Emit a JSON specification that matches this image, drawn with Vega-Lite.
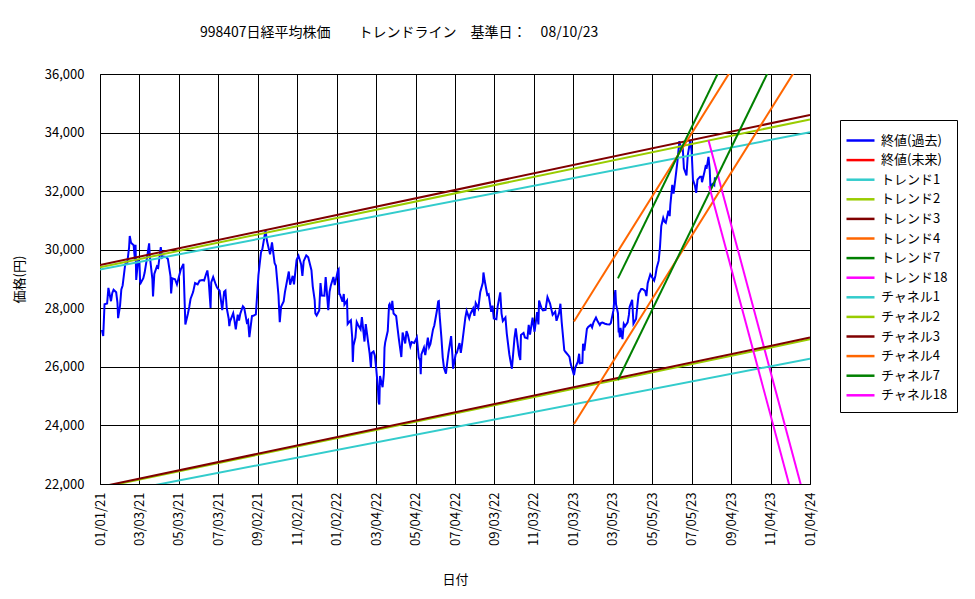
{
  "$schema": "https://vega.github.io/schema/vega-lite/v6.json",
  "autosize": {"type": "none"},
  "padding": {"left": 100, "top": 74, "right": 165, "bottom": 115},
  "width": 710,
  "height": 410,
  "background": "white",
  "config": {
    "font": "Noto Sans CJK JP",
    "view": {"stroke": "#808080", "strokeWidth": 1},
    "axis": {"labelFont": "Noto Sans CJK JP", "titleFont": "Noto Sans CJK JP", "labelColor": "black", "titleColor": "black", "titleFontWeight": "normal", "labelFontSize": 12, "titleFontSize": 13, "gridColor": "black", "gridOpacity": 1, "gridWidth": 1, "domainColor": "black", "domainWidth": 1}
  },
  "title": {
    "text": "998407日経平均株価　　トレンドライン　基準日：　08/10/23",
    "anchor": "start",
    "frame": "group",
    "dx": 100,
    "offset": 28,
    "fontSize": 14,
    "fontWeight": "normal",
    "font": "Noto Sans CJK JP",
    "color": "black"
  },
  "datasets": {
    "close": [
      {"d":"2021-01-04","v":27258},{"d":"2021-01-06","v":27056},{"d":"2021-01-08","v":28139},{"d":"2021-01-12","v":28164},{"d":"2021-01-14","v":28698},{"d":"2021-01-18","v":28242},{"d":"2021-01-20","v":28523},{"d":"2021-01-22","v":28631},{"d":"2021-01-26","v":28546},{"d":"2021-01-28","v":28197},{"d":"2021-01-29","v":27663},
      {"d":"2021-02-01","v":28091},{"d":"2021-02-03","v":28646},{"d":"2021-02-05","v":28779},{"d":"2021-02-09","v":29505},{"d":"2021-02-12","v":29520},{"d":"2021-02-15","v":30084},{"d":"2021-02-16","v":30467},{"d":"2021-02-18","v":30236},{"d":"2021-02-22","v":30156},{"d":"2021-02-24","v":29671},{"d":"2021-02-25","v":30168},{"d":"2021-02-26","v":28966},
      {"d":"2021-03-01","v":29663},{"d":"2021-03-03","v":29559},{"d":"2021-03-04","v":28930},{"d":"2021-03-05","v":28864},{"d":"2021-03-09","v":29028},{"d":"2021-03-11","v":29211},{"d":"2021-03-15","v":29766},{"d":"2021-03-18","v":30216},{"d":"2021-03-19","v":29792},{"d":"2021-03-23","v":28995},{"d":"2021-03-24","v":28405},{"d":"2021-03-26","v":29176},{"d":"2021-03-30","v":29432},
      {"d":"2021-04-01","v":29388},{"d":"2021-04-05","v":30089},{"d":"2021-04-07","v":29730},{"d":"2021-04-09","v":29768},{"d":"2021-04-13","v":29751},{"d":"2021-04-16","v":29683},{"d":"2021-04-20","v":29100},{"d":"2021-04-21","v":28508},{"d":"2021-04-23","v":29020},{"d":"2021-04-27","v":28991},{"d":"2021-04-30","v":28812},
      {"d":"2021-05-06","v":29331},{"d":"2021-05-10","v":29518},{"d":"2021-05-12","v":28147},{"d":"2021-05-13","v":27448},{"d":"2021-05-17","v":27824},{"d":"2021-05-19","v":28044},{"d":"2021-05-21","v":28317},{"d":"2021-05-25","v":28553},{"d":"2021-05-28","v":28860},
      {"d":"2021-06-01","v":28814},{"d":"2021-06-04","v":28941},{"d":"2021-06-08","v":28963},{"d":"2021-06-11","v":28948},{"d":"2021-06-14","v":29161},{"d":"2021-06-16","v":29291},{"d":"2021-06-18","v":28964},{"d":"2021-06-21","v":28010},{"d":"2021-06-22","v":28884},{"d":"2021-06-25","v":29066},{"d":"2021-06-29","v":28812},
      {"d":"2021-07-01","v":28707},{"d":"2021-07-05","v":28598},{"d":"2021-07-08","v":28118},{"d":"2021-07-09","v":27940},{"d":"2021-07-12","v":28569},{"d":"2021-07-14","v":28608},{"d":"2021-07-16","v":28003},{"d":"2021-07-19","v":27652},{"d":"2021-07-20","v":27388},{"d":"2021-07-21","v":27548},{"d":"2021-07-26","v":27833},{"d":"2021-07-28","v":27581},{"d":"2021-07-30","v":27283},
      {"d":"2021-08-02","v":27781},{"d":"2021-08-04","v":27584},{"d":"2021-08-06","v":27820},{"d":"2021-08-10","v":28070},{"d":"2021-08-12","v":28015},{"d":"2021-08-16","v":27523},{"d":"2021-08-18","v":27585},{"d":"2021-08-20","v":27013},{"d":"2021-08-24","v":27732},{"d":"2021-08-26","v":27742},{"d":"2021-08-30","v":27789},
      {"d":"2021-09-01","v":28451},{"d":"2021-09-03","v":29128},{"d":"2021-09-07","v":29916},{"d":"2021-09-09","v":30008},{"d":"2021-09-14","v":30670},{"d":"2021-09-16","v":30323},{"d":"2021-09-21","v":29840},{"d":"2021-09-24","v":30248},{"d":"2021-09-28","v":29544},{"d":"2021-09-30","v":29452},
      {"d":"2021-10-04","v":28444},{"d":"2021-10-06","v":27528},{"d":"2021-10-08","v":28048},{"d":"2021-10-12","v":28230},{"d":"2021-10-14","v":28550},{"d":"2021-10-18","v":29025},{"d":"2021-10-20","v":29255},{"d":"2021-10-22","v":28804},{"d":"2021-10-26","v":29106},{"d":"2021-10-28","v":28820},
      {"d":"2021-11-01","v":29647},{"d":"2021-11-04","v":29794},{"d":"2021-11-08","v":29507},{"d":"2021-11-10","v":29106},{"d":"2021-11-12","v":29610},{"d":"2021-11-16","v":29808},{"d":"2021-11-19","v":29745},{"d":"2021-11-24","v":29302},{"d":"2021-11-26","v":28751},{"d":"2021-11-29","v":28283},{"d":"2021-11-30","v":27821},
      {"d":"2021-12-02","v":27753},{"d":"2021-12-06","v":27927},{"d":"2021-12-08","v":28860},{"d":"2021-12-10","v":28437},{"d":"2021-12-14","v":28432},{"d":"2021-12-16","v":29066},{"d":"2021-12-20","v":27937},{"d":"2021-12-22","v":28562},{"d":"2021-12-24","v":28782},{"d":"2021-12-28","v":29069},{"d":"2021-12-30","v":28791},
      {"d":"2022-01-04","v":29301},{"d":"2022-01-05","v":29332},{"d":"2022-01-06","v":28487},{"d":"2022-01-07","v":28478},{"d":"2022-01-11","v":28222},{"d":"2022-01-13","v":28489},{"d":"2022-01-14","v":28124},{"d":"2022-01-18","v":28257},{"d":"2022-01-19","v":27467},{"d":"2022-01-21","v":27522},{"d":"2022-01-24","v":27588},{"d":"2022-01-26","v":27011},{"d":"2022-01-27","v":26170},{"d":"2022-01-28","v":26717},{"d":"2022-01-31","v":27002},
      {"d":"2022-02-02","v":27533},{"d":"2022-02-04","v":27440},{"d":"2022-02-08","v":27284},{"d":"2022-02-10","v":27696},{"d":"2022-02-14","v":26865},{"d":"2022-02-16","v":27460},{"d":"2022-02-18","v":27122},{"d":"2022-02-22","v":26449},{"d":"2022-02-24","v":25970},{"d":"2022-02-25","v":26476},{"d":"2022-02-28","v":26527},
      {"d":"2022-03-02","v":26393},{"d":"2022-03-04","v":25985},{"d":"2022-03-07","v":25221},{"d":"2022-03-08","v":24790},{"d":"2022-03-09","v":24717},{"d":"2022-03-10","v":25690},{"d":"2022-03-14","v":25307},{"d":"2022-03-16","v":25762},{"d":"2022-03-17","v":26652},{"d":"2022-03-18","v":26827},{"d":"2022-03-22","v":27224},{"d":"2022-03-24","v":28110},{"d":"2022-03-25","v":28149},{"d":"2022-03-28","v":27943},{"d":"2022-03-29","v":28252},{"d":"2022-03-31","v":27821},
      {"d":"2022-04-04","v":27736},{"d":"2022-04-06","v":27350},{"d":"2022-04-08","v":26985},{"d":"2022-04-12","v":26335},{"d":"2022-04-14","v":27172},{"d":"2022-04-18","v":26800},{"d":"2022-04-20","v":27217},{"d":"2022-04-22","v":27105},{"d":"2022-04-26","v":26700},{"d":"2022-04-28","v":26847},
      {"d":"2022-05-02","v":26818},{"d":"2022-05-06","v":27003},{"d":"2022-05-09","v":26319},{"d":"2022-05-11","v":26213},{"d":"2022-05-12","v":25748},{"d":"2022-05-13","v":26427},{"d":"2022-05-17","v":26659},{"d":"2022-05-19","v":26402},{"d":"2022-05-23","v":27001},{"d":"2022-05-25","v":26677},{"d":"2022-05-27","v":26781},{"d":"2022-05-31","v":27279},
      {"d":"2022-06-02","v":27413},{"d":"2022-06-06","v":27915},{"d":"2022-06-08","v":28234},{"d":"2022-06-09","v":28246},{"d":"2022-06-10","v":27824},{"d":"2022-06-13","v":26987},{"d":"2022-06-15","v":26326},{"d":"2022-06-17","v":25963},{"d":"2022-06-20","v":25771},{"d":"2022-06-22","v":26149},{"d":"2022-06-24","v":26491},{"d":"2022-06-28","v":27049},{"d":"2022-06-30","v":26393},
      {"d":"2022-07-01","v":25935},{"d":"2022-07-05","v":26423},{"d":"2022-07-07","v":26490},{"d":"2022-07-11","v":26812},{"d":"2022-07-13","v":26478},{"d":"2022-07-15","v":26788},{"d":"2022-07-20","v":27680},{"d":"2022-07-22","v":27914},{"d":"2022-07-26","v":27655},{"d":"2022-07-28","v":27815},
      {"d":"2022-08-01","v":27993},{"d":"2022-08-03","v":27741},{"d":"2022-08-05","v":28176},{"d":"2022-08-09","v":27999},{"d":"2022-08-12","v":28546},{"d":"2022-08-16","v":28868},{"d":"2022-08-17","v":29222},{"d":"2022-08-19","v":28930},{"d":"2022-08-23","v":28452},{"d":"2022-08-25","v":28479},{"d":"2022-08-29","v":27878},{"d":"2022-08-31","v":28091},
      {"d":"2022-09-02","v":27650},{"d":"2022-09-06","v":27626},{"d":"2022-09-08","v":28065},{"d":"2022-09-12","v":28542},{"d":"2022-09-14","v":27818},{"d":"2022-09-16","v":27567},{"d":"2022-09-20","v":27688},{"d":"2022-09-22","v":27153},{"d":"2022-09-26","v":26431},{"d":"2022-09-28","v":26173},{"d":"2022-09-30","v":25937},
      {"d":"2022-10-04","v":26992},{"d":"2022-10-06","v":27311},{"d":"2022-10-11","v":26401},{"d":"2022-10-13","v":26237},{"d":"2022-10-14","v":27090},{"d":"2022-10-18","v":27156},{"d":"2022-10-20","v":27006},{"d":"2022-10-24","v":26974},{"d":"2022-10-26","v":27432},{"d":"2022-10-28","v":27105},
      {"d":"2022-11-01","v":27679},{"d":"2022-11-04","v":27199},{"d":"2022-11-08","v":27872},{"d":"2022-11-10","v":27446},{"d":"2022-11-11","v":28263},{"d":"2022-11-15","v":27990},{"d":"2022-11-17","v":27930},{"d":"2022-11-21","v":27944},{"d":"2022-11-24","v":28383},{"d":"2022-11-28","v":28162},{"d":"2022-11-30","v":27968},
      {"d":"2022-12-02","v":27777},{"d":"2022-12-06","v":27885},{"d":"2022-12-08","v":27574},{"d":"2022-12-12","v":27842},{"d":"2022-12-14","v":28156},{"d":"2022-12-16","v":27527},{"d":"2022-12-20","v":26568},{"d":"2022-12-22","v":26507},{"d":"2022-12-26","v":26405},{"d":"2022-12-28","v":26340},{"d":"2022-12-30","v":26094},
      {"d":"2023-01-04","v":25716},{"d":"2023-01-06","v":25973},{"d":"2023-01-10","v":26175},{"d":"2023-01-12","v":26449},{"d":"2023-01-13","v":26119},{"d":"2023-01-17","v":26138},{"d":"2023-01-18","v":26791},{"d":"2023-01-20","v":26553},{"d":"2023-01-24","v":27299},{"d":"2023-01-26","v":27362},{"d":"2023-01-30","v":27433},
      {"d":"2023-02-01","v":27346},{"d":"2023-02-03","v":27509},{"d":"2023-02-07","v":27685},{"d":"2023-02-09","v":27584},{"d":"2023-02-13","v":27427},{"d":"2023-02-15","v":27501},{"d":"2023-02-17","v":27513},{"d":"2023-02-21","v":27473},{"d":"2023-02-24","v":27453},{"d":"2023-02-28","v":27445},
      {"d":"2023-03-02","v":27498},{"d":"2023-03-06","v":27927},{"d":"2023-03-08","v":28444},{"d":"2023-03-09","v":28623},{"d":"2023-03-10","v":28143},{"d":"2023-03-13","v":27832},{"d":"2023-03-14","v":27222},{"d":"2023-03-15","v":27229},{"d":"2023-03-16","v":27010},{"d":"2023-03-17","v":27333},{"d":"2023-03-20","v":26945},{"d":"2023-03-22","v":27466},{"d":"2023-03-24","v":27385},{"d":"2023-03-28","v":27518},{"d":"2023-03-30","v":27782},{"d":"2023-03-31","v":28041},
      {"d":"2023-04-04","v":28287},{"d":"2023-04-06","v":27472},{"d":"2023-04-10","v":27633},{"d":"2023-04-12","v":28082},{"d":"2023-04-14","v":28493},{"d":"2023-04-18","v":28658},{"d":"2023-04-20","v":28657},{"d":"2023-04-24","v":28593},{"d":"2023-04-26","v":28416},{"d":"2023-04-28","v":28856},
      {"d":"2023-05-02","v":29157},{"d":"2023-05-08","v":28949},{"d":"2023-05-10","v":29122},{"d":"2023-05-12","v":29388},{"d":"2023-05-15","v":29626},{"d":"2023-05-17","v":30093},{"d":"2023-05-19","v":30808},{"d":"2023-05-22","v":31086},{"d":"2023-05-24","v":30957},{"d":"2023-05-26","v":30916},{"d":"2023-05-30","v":31328},
      {"d":"2023-06-01","v":31148},{"d":"2023-06-02","v":31524},{"d":"2023-06-05","v":32217},{"d":"2023-06-07","v":31913},{"d":"2023-06-09","v":32265},{"d":"2023-06-13","v":33018},{"d":"2023-06-15","v":33485},{"d":"2023-06-16","v":33706},{"d":"2023-06-19","v":33370},{"d":"2023-06-21","v":33575},{"d":"2023-06-23","v":32781},{"d":"2023-06-27","v":32538},{"d":"2023-06-29","v":33234},
      {"d":"2023-07-03","v":33753},{"d":"2023-07-05","v":33338},{"d":"2023-07-07","v":32388},{"d":"2023-07-10","v":32189},{"d":"2023-07-12","v":31943},{"d":"2023-07-14","v":32391},{"d":"2023-07-18","v":32493},{"d":"2023-07-20","v":32490},{"d":"2023-07-21","v":32304},{"d":"2023-07-25","v":32682},{"d":"2023-07-27","v":32891},{"d":"2023-07-28","v":32759},{"d":"2023-07-31","v":33172},
      {"d":"2023-08-02","v":32707},{"d":"2023-08-03","v":32159},{"d":"2023-08-04","v":32192},{"d":"2023-08-07","v":32254},{"d":"2023-08-09","v":32204},{"d":"2023-08-10","v":32473}
    ],
    "trend": [
      {"s":"トレンド1","d":"2021-01-01","v":29320},{"s":"トレンド1","d":"2024-01-04","v":34010},
      {"s":"トレンド2","d":"2021-01-01","v":29400},{"s":"トレンド2","d":"2024-01-04","v":34450},
      {"s":"トレンド3","d":"2021-01-01","v":29480},{"s":"トレンド3","d":"2024-01-04","v":34600},
      {"s":"トレンド4","d":"2023-01-04","v":27550},{"s":"トレンド4","d":"2024-01-04","v":40434},
      {"s":"トレンド7","d":"2023-03-13","v":29020},{"s":"トレンド7","d":"2024-01-04","v":42474},
      {"s":"トレンド18","d":"2023-07-31","v":33740},{"s":"トレンド18","d":"2024-01-04","v":20803},
      {"s":"チャネル1","d":"2021-01-01","v":21600},{"s":"チャネル1","d":"2024-01-04","v":26280},
      {"s":"チャネル2","d":"2021-01-01","v":21870},{"s":"チャネル2","d":"2024-01-04","v":26940},
      {"s":"チャネル3","d":"2021-01-01","v":21900},{"s":"チャネル3","d":"2024-01-04","v":27000},
      {"s":"チャネル4","d":"2023-01-04","v":24050},{"s":"チャネル4","d":"2024-01-04","v":36934},
      {"s":"チャネル7","d":"2023-03-13","v":25550},{"s":"チャネル7","d":"2024-01-04","v":39004},
      {"s":"チャネル18","d":"2023-08-01","v":32178},{"s":"チャネル18","d":"2024-01-04","v":19323}
    ]
  },
  "encoding": {
    "x": {
      "field": "d", "type": "temporal",
      "scale": {"type": "utc", "domain": [{"year": 2021, "month": 1, "date": 1, "utc": true}, {"year": 2024, "month": 1, "date": 4, "utc": true}]},
      "axis": {
        "title": "日付", "format": "%m/%d/%y", "labelAngle": -90, "labelPadding": 8, "labelFontSize": 13, "ticks": false, "titlePadding": 28,
        "values": [
          {"year":2021,"month":1,"date":1,"utc":true},{"year":2021,"month":3,"date":3,"utc":true},{"year":2021,"month":5,"date":3,"utc":true},{"year":2021,"month":7,"date":3,"utc":true},{"year":2021,"month":9,"date":2,"utc":true},{"year":2021,"month":11,"date":2,"utc":true},
          {"year":2022,"month":1,"date":2,"utc":true},{"year":2022,"month":3,"date":4,"utc":true},{"year":2022,"month":5,"date":4,"utc":true},{"year":2022,"month":7,"date":4,"utc":true},{"year":2022,"month":9,"date":3,"utc":true},{"year":2022,"month":11,"date":3,"utc":true},
          {"year":2023,"month":1,"date":3,"utc":true},{"year":2023,"month":3,"date":5,"utc":true},{"year":2023,"month":5,"date":5,"utc":true},{"year":2023,"month":7,"date":5,"utc":true},{"year":2023,"month":9,"date":4,"utc":true},{"year":2023,"month":11,"date":4,"utc":true},
          {"year":2024,"month":1,"date":4,"utc":true}
        ]
      }
    },
    "y": {
      "field": "v", "type": "quantitative",
      "scale": {"domain": [22000, 36000], "nice": false, "zero": false},
      "axis": {"title": "価格(円)", "format": ",d", "labelFontSize": 13, "values": [22000, 24000, 26000, 28000, 30000, 32000, 34000, 36000], "ticks": false, "labelPadding": 16, "titlePadding": 18}
    },
    "color": {
      "scale": {
        "domain": ["終値(過去)", "終値(未来)", "トレンド1", "トレンド2", "トレンド3", "トレンド4", "トレンド7", "トレンド18", "チャネル1", "チャネル2", "チャネル3", "チャネル4", "チャネル7", "チャネル18"],
        "range": ["#0000FF", "#FF0000", "#33CCCC", "#99CC00", "#800000", "#FF6600", "#008000", "#FF00FF", "#33CCCC", "#99CC00", "#800000", "#FF6600", "#008000", "#FF00FF"]
      },
      "legend": {
        "title": null, "orient": "none", "legendX": 740, "legendY": 46,
        "symbolType": "M-1.4,0H1.4", "symbolSize": 400, "symbolStrokeWidth": 2.5, "symbolFillColor": "transparent",
        "labelFontSize": 13, "labelFont": "Noto Sans CJK JP", "labelColor": "black", "labelOffset": 9,
        "rowPadding": 0.6, "padding": 9, "strokeColor": "black", "fillColor": "white", "labelLimit": 200
      }
    }
  },
  "layer": [
    {
      "data": {"name": "close"},
      "mark": {"type": "line", "strokeWidth": 2, "clip": true},
      "encoding": {"color": {"datum": "終値(過去)"}}
    },
    {
      "data": {"name": "trend"},
      "mark": {"type": "line", "strokeWidth": 2, "clip": true},
      "encoding": {"color": {"field": "s", "type": "nominal"}, "detail": {"field": "s"}}
    }
  ]
}
